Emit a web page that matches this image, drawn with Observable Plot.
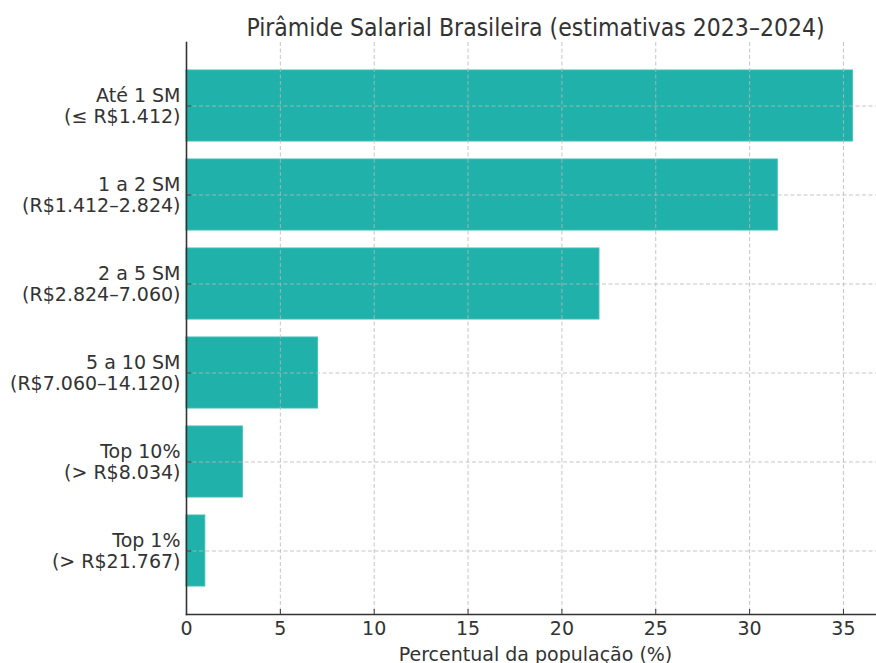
<!DOCTYPE html>
<html>
<head>
<meta charset="utf-8">
<script src="https://cdn.jsdelivr.net/npm/d3@7"></script>
<script src="https://cdn.jsdelivr.net/npm/@observablehq/plot@0.6"></script>
<style>
  html, body { margin: 0; padding: 0; background: #fff; }
  #chart svg { display: block; }
</style>
</head>
<body>
<div id="chart"></div>
<script>
const categories = [
  "Até 1 SM\n(≤ R$1.412)",
  "1 a 2 SM\n(R$1.412–2.824)",
  "2 a 5 SM\n(R$2.824–7.060)",
  "5 a 10 SM\n(R$7.060–14.120)",
  "Top 10%\n(> R$8.034)",
  "Top 1%\n(> R$21.767)"
];
const values = [35.5, 31.5, 22.0, 7.0, 3.0, 1.0];
const xTicks = [0, 5, 10, 15, 20, 25, 30, 35];
const title = "Pirâmide Salarial Brasileira (estimativas 2023–2024)";
const xLabel = "Percentual da população (%)";

const data = categories.map((c, i) => ({category: c, value: values[i]}));

const gridStyle = {stroke: "#b8b8b8", strokeOpacity: 0.8, strokeDasharray: "4,2.5", strokeWidth: 1};

const chart = Plot.plot({
  width: 876,
  height: 663,
  marginLeft: 186,
  marginRight: 0,
  marginTop: 42,
  marginBottom: 49,
  style: {fontFamily: "DejaVu Sans", fontSize: "19px", color: "#333", background: "#fff"},
  x: {domain: [0, 36.76], ticks: xTicks, label: null},
  y: {domain: categories, paddingInner: 0.2, paddingOuter: 0.285, label: null},
  marks: [
    Plot.barX(data, {x: "value", y: "category", fill: "#20B2AA", stroke: "#3cbcb4", strokeWidth: 1}),
    Plot.gridX(xTicks, gridStyle),
    Plot.gridY(categories, gridStyle),
    Plot.frame({anchor: "left", stroke: "#333", strokeWidth: 1.6}),
    Plot.frame({anchor: "bottom", stroke: "#333", strokeWidth: 1.6}),
    Plot.axisX({ticks: xTicks, tickSize: -5, tickPadding: 12, stroke: "#333", fill: "#333", fontSize: 19, label: null}),
    Plot.axisY({tickSize: -5, tickPadding: 11, stroke: "#333", fill: "#333", fontSize: 19, lineHeight: 1.1, label: null}),
    Plot.text([xLabel], {text: d => d, frameAnchor: "bottom", dx: 4, dy: 46, lineAnchor: "bottom", fill: "#333", fontSize: 19}),
    Plot.text([title], {text: d => d, frameAnchor: "top", dx: 4, dy: -7, lineAnchor: "bottom", fill: "#333", fontSize: 24.5, fontFamily: "DejaVu Sans Condensed"})
  ]
});
document.getElementById("chart").appendChild(chart);
</script>
</body>
</html>
